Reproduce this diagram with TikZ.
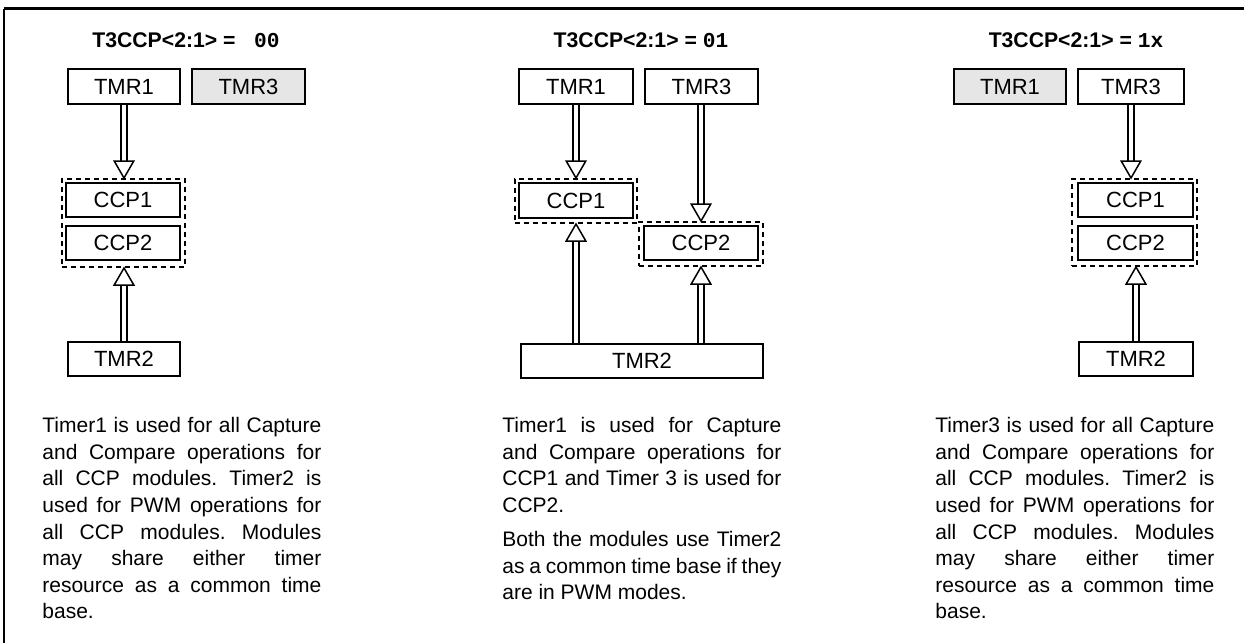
\documentclass[tikz,border=0pt]{standalone}
\usepackage{fontspec}
\setmainfont{Liberation Sans}
\newfontfamily\monofont{Liberation Mono}
\usetikzlibrary{calc}
\frenchspacing
\pgfdeclarelayer{bg}
\pgfsetlayers{bg,main}
\definecolor{boxgray}{HTML}{E6E6E6}
\tikzset{
  box/.style={draw, line width=1pt, minimum height=17.5pt, inner sep=0pt, font=\fontsize{11}{13}\selectfont},
  greybox/.style={fill=boxgray},
  dbox/.style={draw, dash pattern=on 2.5pt off 2pt, line width=1pt, inner sep=0pt},
  para/.style={anchor=north west, text width=139.5pt, align=justify, inner sep=0pt, font=\fontsize{10.5}{13.3}\selectfont\frenchspacing},
  ttl/.style={anchor=base, inner sep=0pt, font=\fontsize{10.6}{12}\selectfont\bfseries},
  shaft/.style={line width=0.75pt, double=white, double distance=2.4pt},
  head/.style={line width=0.75pt, fill=white, line join=miter},
}
\newcommand\fatarrow[2]{%
  \coordinate (fa-s) at (#1);
  \coordinate (fa-e) at (#2);
  \coordinate (fa-b) at ($(fa-e)!8.5pt!(fa-s)$);
  \begin{pgfonlayer}{bg}
  \draw[shaft] (fa-s) -- (fa-b);
  \draw[head] (fa-e) -- ($(fa-b)!4.9pt!90:(fa-e)$) -- ($(fa-b)!4.9pt!-90:(fa-e)$) -- cycle;
  \end{pgfonlayer}
}
\begin{document}
\begin{tikzpicture}[x=0.5pt, y=-0.5pt]
\useasboundingbox (0,0) rectangle (1244,643);
% frame
\draw[line width=1pt] (4,700) -- (4,8.5);
\draw[line width=1.5pt] (3.5,8.5) -- (1300,8.5);

% ---------- panel 1 ----------
\node[ttl] (t1) at (186,47) {T3CCP<2:1> = {\monofont\ 00}};
\node[box, minimum width=56pt] (a1) at (124,86.5) {TMR1};
\node[box, greybox, minimum width=56.5pt] (a3) at (248.5,86.5) {TMR3};
\node[dbox, minimum width=61.5pt, minimum height=44pt] (ad) at (123.5,223) {};
\node[box, minimum width=57pt, minimum height=17pt] (ac1) at (123,200) {CCP1};
\node[box, minimum width=57pt, minimum height=17pt] (ac2) at (123,243) {CCP2};
\node[box, minimum width=56pt, minimum height=17pt] (a2) at (124,359) {TMR2};
\fatarrow{a1.south}{a1.south |- ad.north}
\fatarrow{a2.north}{a2.north |- ad.south}
\node[para] (p1) at (42,417) {Timer1 is used for all Capture\linebreak
and Compare operations for\linebreak
all CCP modules. Timer2 is\linebreak
used for PWM operations for\linebreak
all CCP modules. Modules\linebreak
may share either timer\linebreak
resource as a common time\linebreak
base.};

% ---------- panel 2 ----------
\node[ttl] (t2) at (641,47) {T3CCP<2:1> = {\monofont 01}};
\node[box, minimum width=57pt] (b1) at (576,86.5) {TMR1};
\node[box, minimum width=56.5pt] (b3) at (701.5,86.5) {TMR3};
\node[dbox, minimum width=61pt, minimum height=22pt] (bd1) at (576,201) {};
\node[box, minimum width=57pt, minimum height=17.5pt] (bc1) at (576,200.5) {CCP1};
\node[dbox, minimum width=62pt, minimum height=22pt] (bd2) at (701,244) {};
\node[box, minimum width=57pt, minimum height=17pt] (bc2) at (701,243) {CCP2};
\node[box, minimum width=121pt, minimum height=17pt] (b2) at (642,361) {TMR2};
\fatarrow{b1.south}{b1.south |- bd1.north}
\fatarrow{b3.south -| bd2.north}{bd2.north}
\fatarrow{bd1.south |- b2.north}{bd1.south}
\fatarrow{bd2.south |- b2.north}{bd2.south}
\node[para] (p2) at (502,417) {Timer1 is used for Capture\linebreak
and Compare operations for\linebreak
CCP1 and Timer 3 is used for\linebreak
CCP2.\par\vspace{3.8pt}
Both the modules use Timer2\linebreak
as a common time base if they\linebreak
are in PWM modes.};

% ---------- panel 3 ----------
\node[ttl] (t3) at (1076,47) {T3CCP<2:1> = {\monofont 1x}};
\node[box, greybox, minimum width=56pt] (c1) at (1010,86.5) {TMR1};
\node[box, minimum width=53pt] (c3) at (1131,86.5) {TMR3};
\node[dbox, minimum width=62.5pt, minimum height=43.5pt] (cd) at (1134.5,222.5) {};
\node[box, minimum width=57.5pt, minimum height=17pt] (cc1) at (1135.5,200) {CCP1};
\node[box, minimum width=57.5pt, minimum height=17pt] (cc2) at (1135.5,243) {CCP2};
\node[box, minimum width=57pt, minimum height=17pt] (c2) at (1136,359) {TMR2};
\fatarrow{c3.south}{c3.south |- cd.north}
\fatarrow{c2.north}{c2.north |- cd.south}
\node[para] (p3) at (935,417) {Timer3 is used for all Capture\linebreak
and Compare operations for\linebreak
all CCP modules. Timer2 is\linebreak
used for PWM operations for\linebreak
all CCP modules. Modules\linebreak
may share either timer\linebreak
resource as a common time\linebreak
base.};
\end{tikzpicture}
\end{document}
